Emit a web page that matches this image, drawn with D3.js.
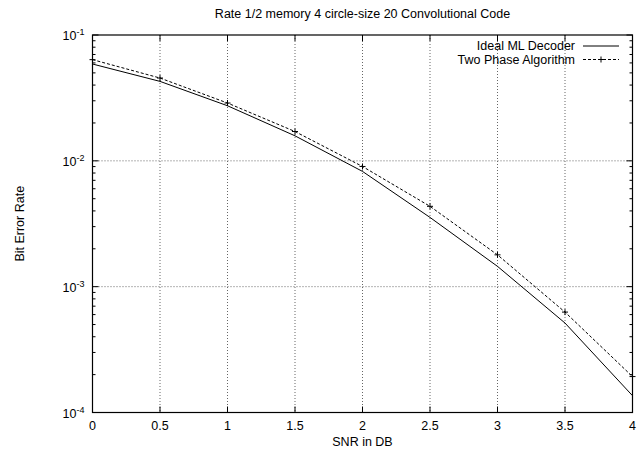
<!DOCTYPE html>
<html>
<head>
<meta charset="utf-8">
<script src="https://cdn.jsdelivr.net/npm/d3@7"></script>
<style>
  body { margin: 0; background: #fff; }
  text { font-family: "Liberation Sans", Arial, sans-serif; fill: #000; }
</style>
</head>
<body>
<svg width="641" height="450"></svg>
<script>
// BER curves
var snr = [0, 0.5, 1, 1.5, 2, 2.5, 3, 3.5, 4];
var idealML = [0.0588, 0.0428, 0.0274, 0.0158, 0.00824, 0.00355, 0.00145, 0.000514, 0.000136];
var twoPhase = [0.0637, 0.0455, 0.0288, 0.0171, 0.00902, 0.00435, 0.00179, 0.000628, 0.000193];
var xTicks = [0, 0.5, 1, 1.5, 2, 2.5, 3, 3.5, 4];
var yExps = [-4, -3, -2, -1];

var svg = d3.select('svg');
var padL = 92.5, padR = 632.5, padT = 35, padB = 412.5;
var fs = '12.5px';

var x = d3.scaleLinear().domain([0, 4]).range([padL, padR]);
var y = d3.scaleLog().domain([1e-4, 1e-1]).range([padB, padT]);

// grid
var grid = svg.append('g').attr('stroke', '#666').attr('stroke-dasharray', '1,2').attr('stroke-width', 1);
xTicks.slice(1, -1).forEach(function (t) {
    grid.append('line').attr('x1', x(t)).attr('x2', x(t)).attr('y1', padT).attr('y2', padB);
});
yExps.slice(1, -1).forEach(function (e) {
    grid.append('line').attr('x1', padL).attr('x2', padR).attr('y1', y(Math.pow(10, e))).attr('y2', y(Math.pow(10, e)));
});

// ticks on all four sides, pointing inward
var ticks = svg.append('g').attr('stroke', '#000').attr('stroke-width', 1);
xTicks.forEach(function (t) {
    ticks.append('line').attr('x1', x(t)).attr('x2', x(t)).attr('y1', padB).attr('y2', padB - 6);
    ticks.append('line').attr('x1', x(t)).attr('x2', x(t)).attr('y1', padT).attr('y2', padT + 6);
});
for (var e = -4; e <= -1; e++) {
    for (var m = 1; m <= 9; m++) {
        var v = m * Math.pow(10, e);
        if (v > 0.1 + 1e-12) break;
        var len = m == 1 ? 6 : 3;
        ticks.append('line').attr('x1', padL).attr('x2', padL + len).attr('y1', y(v)).attr('y2', y(v));
        ticks.append('line').attr('x1', padR).attr('x2', padR - len).attr('y1', y(v)).attr('y2', y(v));
    }
}

// frame
svg.append('rect').attr('x', padL).attr('y', padT).attr('width', padR - padL).attr('height', padB - padT)
    .attr('fill', 'none').attr('stroke', '#000').attr('stroke-width', 1.2);

// tick labels
svg.append('g').selectAll('text').data(xTicks).enter().append('text')
    .attr('x', function (d) { return x(d); })
    .attr('y', padB + 17)
    .attr('text-anchor', 'middle')
    .style('font-size', fs)
    .text(function (d) { return d; });

var yl = svg.append('g').selectAll('text').data(yExps).enter().append('text')
    .attr('x', padL - 8)
    .attr('y', function (d) { return y(Math.pow(10, d)) + 5; })
    .attr('text-anchor', 'end')
    .style('font-size', fs);
yl.append('tspan').text('10');
yl.append('tspan').attr('dy', -5).style('font-size', '9px').text(function (d) { return d; });

// titles
svg.append('text').attr('x', (padL + padR) / 2).attr('y', 18).attr('text-anchor', 'middle')
    .style('font-size', fs).text('Rate 1/2 memory 4 circle-size 20 Convolutional Code');
svg.append('text').attr('x', (padL + padR) / 2).attr('y', 446).attr('text-anchor', 'middle')
    .style('font-size', fs).text('SNR in DB');
svg.append('text').attr('transform', 'translate(24,' + ((padT + padB) / 2) + ') rotate(-90)')
    .attr('text-anchor', 'middle').style('font-size', fs).text('Bit Error Rate');

// curves
var line = d3.line()
    .x(function (d) { return x(d[0]); })
    .y(function (d) { return y(d[1]); });

svg.append('path').datum(d3.zip(snr, idealML)).attr('d', line)
    .attr('fill', 'none').attr('stroke', '#000').attr('stroke-width', 1);

var tp = d3.zip(snr, twoPhase);
svg.append('path').datum(tp).attr('d', line)
    .attr('fill', 'none').attr('stroke', '#000').attr('stroke-width', 1).attr('stroke-dasharray', '3,2');

function plus(g, cx, cy) {
    g.append('path').attr('d', 'M' + (cx - 3) + ',' + cy + 'H' + (cx + 3) + 'M' + cx + ',' + (cy - 3) + 'V' + (cy + 3))
        .attr('stroke', '#000').attr('stroke-width', 1);
}
var marks = svg.append('g');
tp.forEach(function (d) { plus(marks, x(d[0]), y(d[1])); });

// legend
var lg = svg.append('g');
lg.append('text').attr('x', 575).attr('y', 50).attr('text-anchor', 'end').style('font-size', fs).text('Ideal ML Decoder');
lg.append('line').attr('x1', 583).attr('x2', 619).attr('y1', 46).attr('y2', 46).attr('stroke', '#000');
lg.append('text').attr('x', 575).attr('y', 64).attr('text-anchor', 'end').style('font-size', fs).text('Two Phase Algorithm');
lg.append('line').attr('x1', 583).attr('x2', 619).attr('y1', 59.5).attr('y2', 59.5).attr('stroke', '#000').attr('stroke-dasharray', '3,2');
plus(lg, 601, 59.5);
</script>
</body>
</html>
